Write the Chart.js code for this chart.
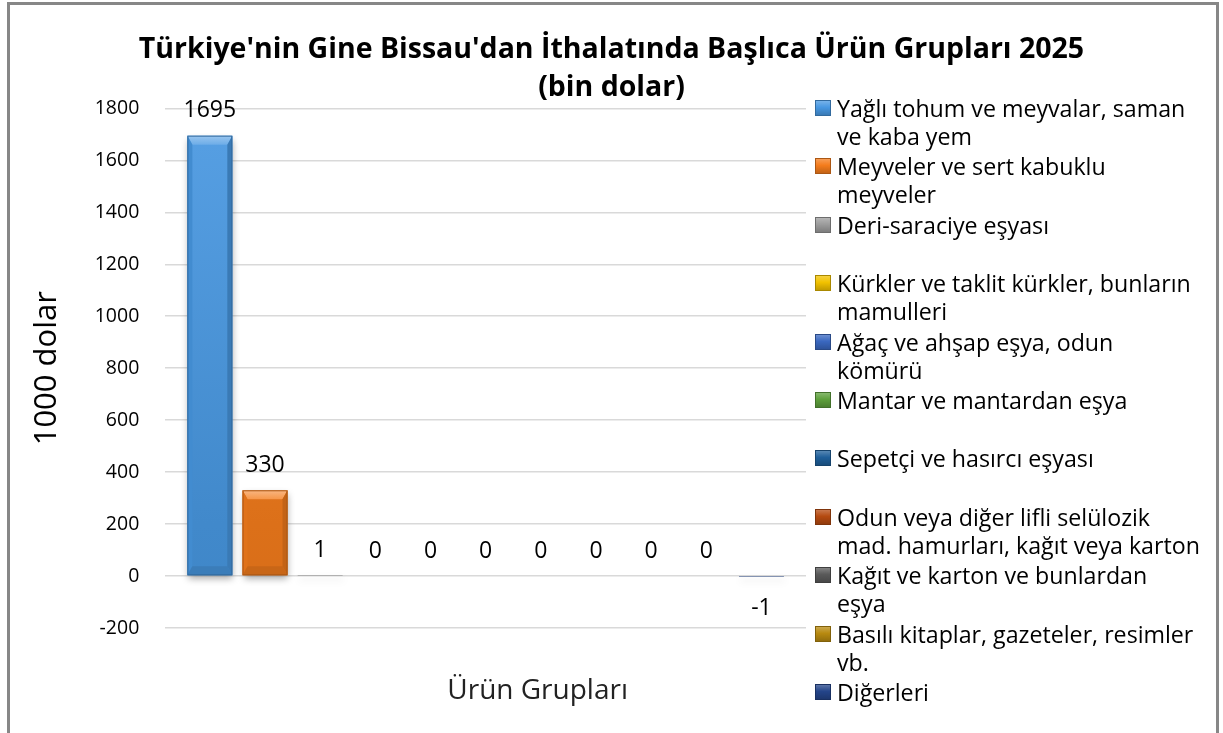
<!DOCTYPE html>
<html>
<head>
<meta charset="utf-8">
<script src="https://cdn.jsdelivr.net/npm/chart.js@4.4.1/dist/chart.umd.min.js"></script>
<style>
  body { margin: 0; background: #fff; overflow: hidden; font-family: "Open Sans", sans-serif; }
  #wrap { position: absolute; left: 0; top: 0; width: 1223px; height: 733px; }
  #frame { position: absolute; left: 7px; top: 2px; width: 1206px; height: 780px; border: 3px solid #878787; pointer-events: none; }
  #legend { position: absolute; left: 815px; top: 94px; margin: 0; padding: 0; list-style: none; }
  #legend li { position: relative; height: 58.4px; padding-left: 22px; font-size: 23.2px; line-height: 28px; color: #000; white-space: nowrap; }
  #legend li span.box { position: absolute; left: 0; top: 6px; width: 16px; height: 16px; box-sizing: border-box; }
</style>
</head>
<body>
<div id="wrap">
  <canvas id="chart" width="1223" height="733"></canvas>
  <ul id="legend"></ul>
  <div id="frame"></div>
</div>
<script>
// ürün grupları (legend satırları)
const groupNames = [
  ["Yağlı tohum ve meyvalar, saman", "ve kaba yem"],
  ["Meyveler ve sert kabuklu", "meyveler"],
  ["Deri-saraciye eşyası"],
  ["Kürkler ve taklit kürkler, bunların", "mamulleri"],
  ["Ağaç ve ahşap eşya, odun", "kömürü"],
  ["Mantar ve mantardan eşya"],
  ["Sepetçi ve hasırcı eşyası"],
  ["Odun veya diğer lifli selülozik", "mad. hamurları, kağıt veya karton"],
  ["Kağıt ve karton ve bunlardan", "eşya"],
  ["Basılı kitaplar, gazeteler, resimler", "vb."],
  ["Diğerleri"],
];
const values2025 = [1695, 330, 1, 0, 0, 0, 0, 0, 0, 0, -1];
const yMin = -200;
const yMax = 1800;
const yStep = 200;

const seriesColors = [
  "#4898e2", "#f47c1c", "#9c9c9c", "#f2c200", "#3a68c0", "#5ea03c",
  "#1f5f9a", "#b54a10", "#5a5a5a", "#b88a10", "#24458a",
];

function mix(hex, target, amt) {
  const n = parseInt(hex.slice(1), 16);
  const c = [(n >> 16) & 255, (n >> 8) & 255, n & 255];
  const t = target === "white" ? 255 : 0;
  const r = c.map((v) => Math.round(v + (t - v) * amt));
  return `rgb(${r[0]},${r[1]},${r[2]})`;
}

function bodyGradient(ctx, i) {
  const chart = ctx.chart;
  const area = chart.chartArea;
  if (!area) return seriesColors[i];
  const g = chart.ctx.createLinearGradient(0, area.top, 0, area.bottom);
  g.addColorStop(0, mix(seriesColors[i], "white", 0.08));
  g.addColorStop(0.8, mix(seriesColors[i], "black", 0.1));
  g.addColorStop(1, mix(seriesColors[i], "black", 0.12));
  return g;
}

// gölge + kabartma efekti
const bevelPlugin = {
  id: "bevel",
  beforeDatasetDraw(chart) {
    const ctx = chart.ctx;
    ctx.save();
    ctx.shadowColor = "rgba(0,0,0,0.35)";
    ctx.shadowBlur = 7;
    ctx.shadowOffsetY = 4;
    ctx.shadowOffsetX = 1;
  },
  afterDatasetDraw(chart, args) {
    const ctx = chart.ctx;
    ctx.restore();
    const i = args.index;
    args.meta.data.forEach((el) => {
      const p = el.getProps(["x", "y", "base", "width"], true);
      const top = Math.min(p.y, p.base);
      const bot = Math.max(p.y, p.base);
      const h = bot - top;
      if (h < 6) return;
      const l = p.x - p.width / 2;
      const r = p.x + p.width / 2;
      const bh = Math.min(9, h / 3);
      const bw = 5;
      const col = seriesColors[i];
      ctx.save();
      // üst
      let g = ctx.createLinearGradient(0, top, 0, top + bh);
      g.addColorStop(0, mix(col, "white", 0.45));
      g.addColorStop(1, mix(col, "white", 0.2));
      ctx.fillStyle = g;
      ctx.beginPath();
      ctx.moveTo(l, top); ctx.lineTo(r, top); ctx.lineTo(r - bw, top + bh); ctx.lineTo(l + bw, top + bh);
      ctx.closePath(); ctx.fill();
      // sol
      ctx.fillStyle = mix(col, "black", 0.08);
      ctx.beginPath();
      ctx.moveTo(l, top); ctx.lineTo(l + bw, top + bh); ctx.lineTo(l + bw, bot - bh); ctx.lineTo(l, bot);
      ctx.closePath(); ctx.fill();
      // sağ
      ctx.fillStyle = mix(col, "black", 0.2);
      ctx.beginPath();
      ctx.moveTo(r, top); ctx.lineTo(r - bw, top + bh); ctx.lineTo(r - bw, bot - bh); ctx.lineTo(r, bot);
      ctx.closePath(); ctx.fill();
      // alt
      ctx.fillStyle = mix(col, "black", 0.18);
      ctx.beginPath();
      ctx.moveTo(l, bot); ctx.lineTo(r, bot); ctx.lineTo(r - bw, bot - bh); ctx.lineTo(l + bw, bot - bh);
      ctx.closePath(); ctx.fill();
      ctx.strokeStyle = mix(col, "black", 0.3);
      ctx.lineWidth = 1;
      ctx.strokeRect(l + 0.5, top + 0.5, p.width - 1, h - 1);
      ctx.restore();
    });
  },
};

// değer etiketleri ve x ekseni başlığı
const labelPlugin = {
  id: "valueLabels",
  afterDatasetsDraw(chart) {
    const ctx = chart.ctx;
    ctx.save();
    ctx.font = "23px 'Open Sans'";
    ctx.fillStyle = "#000";
    ctx.textAlign = "center";
    ctx.textBaseline = "middle";
    chart.data.datasets.forEach((ds, i) => {
      const el = chart.getDatasetMeta(i).data[0];
      const v = ds.data[0];
      const y = v < 0 ? el.base + 32 : el.y - 25;
      ctx.fillText(String(v), el.x, y);
    });
    const area = chart.chartArea;
    ctx.font = "28px 'Open Sans'";
    ctx.fillStyle = "#222";
    ctx.fillText("Ürün Grupları", (area.left + area.right) / 2 + 52, area.bottom + 63);
    ctx.restore();
  },
};

const datasets = groupNames.map((name, i) => ({
  label: name.join(" "),
  data: [values2025[i]],
  backgroundColor: (ctx) => bodyGradient(ctx, i),
  borderWidth: 0,
  categoryPercentage: 0.947,
  barPercentage: 0.815,
}));

const chart = new Chart(document.getElementById("chart"), {
  type: "bar",
  data: { labels: [""], datasets: datasets },
  plugins: [bevelPlugin, labelPlugin],
  options: {
    responsive: false,
    animation: false,
    devicePixelRatio: 1,
    layout: { padding: { left: 0, top: 0, bottom: 97, right: 0 } },
    plugins: {
      legend: { display: false },
      tooltip: { enabled: false },
      title: {
        display: true,
        text: ["Türkiye'nin Gine Bissau'dan İthalatında Başlıca Ürün Grupları 2025", "(bin dolar)"],
        font: { family: "'Open Sans'", size: 28.5, weight: "bold", lineHeight: 1.34 },
        color: "#000",
        padding: { top: 31, bottom: 1 },
      },
    },
    scales: {
      x: {
        ticks: { display: false },
        grid: { display: false },
        border: { display: false },
      },
      y: {
        min: yMin,
        max: yMax,
        ticks: {
          stepSize: yStep,
          padding: 26,
          color: "#000",
          font: { family: "'Open Sans'", size: 19.5 },
          callback: (v) => String(v),
        },
        grid: { color: "#d9d9d9", lineWidth: 1.5, drawTicks: false },
        border: { display: false },
        title: {
          display: true,
          text: "1000 dolar",
          color: "#000",
          font: { family: "'Open Sans'", size: 31 },
          padding: { top: 29, bottom: 2.5 },
        },
      },
      y2: {
        position: "right",
        display: true,
        grid: { display: false },
        border: { display: false },
        ticks: { display: false },
        afterFit(scale) { scale.width = 417; },
      },
    },
  },
});

// legend
const legendEl = document.getElementById("legend");
groupNames.forEach((lines, i) => {
  const li = document.createElement("li");
  const box = document.createElement("span");
  box.className = "box";
  const c = seriesColors[i];
  box.style.background = `linear-gradient(180deg, ${mix(c, "white", 0.25)} 0%, ${c} 45%, ${mix(c, "black", 0.2)} 100%)`;
  box.style.border = `1px solid ${mix(c, "black", 0.3)}`;
  li.appendChild(box);
  lines.forEach((t, k) => {
    if (k > 0) li.appendChild(document.createElement("br"));
    li.appendChild(document.createTextNode(t));
  });
  legendEl.appendChild(li);
});
</script>
</body>
</html>
